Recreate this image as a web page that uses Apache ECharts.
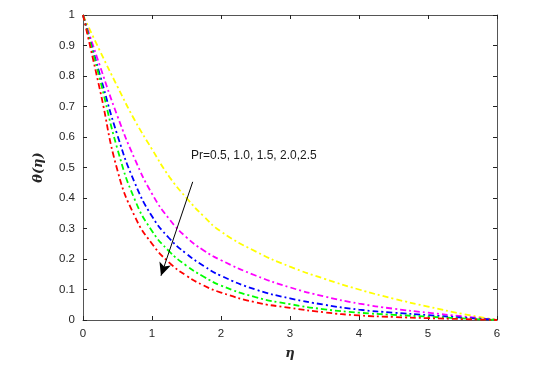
<!DOCTYPE html>
<html>
<head>
<meta charset="utf-8">
<script src="https://cdn.jsdelivr.net/npm/echarts@6/dist/echarts.min.js"></script>
<style>
  html, body { margin: 0; padding: 0; background: #fff; }
  #main { width: 534px; height: 372px; }
</style>
</head>
<body>
<div id="main"></div>
<script>
// eta grid and temperature profiles
const eta = [0, 0.25, 0.5, 0.75, 1, 1.25, 1.5, 1.75, 2, 2.5, 3, 3.5, 4, 4.5, 5, 5.5, 6];
const thetaPr05 = [1, 0.88, 0.765, 0.655, 0.56, 0.47, 0.4, 0.34, 0.29, 0.225, 0.175, 0.135, 0.1, 0.07, 0.044, 0.02, 0];
const thetaPr10 = [1, 0.83, 0.668, 0.528, 0.414, 0.331, 0.271, 0.228, 0.196, 0.146, 0.107, 0.077, 0.054, 0.037, 0.024, 0.012, 0];
const thetaPr15 = [1, 0.8, 0.605, 0.45, 0.34, 0.268, 0.217, 0.177, 0.145, 0.1, 0.071, 0.05, 0.034, 0.024, 0.016, 0.008, 0];
const thetaPr20 = [1, 0.785, 0.56, 0.395, 0.292, 0.225, 0.178, 0.142, 0.113, 0.075, 0.052, 0.035, 0.024, 0.017, 0.011, 0.005, 0];
const thetaPr25 = [1, 0.75, 0.49, 0.34, 0.25, 0.188, 0.145, 0.113, 0.09, 0.058, 0.04, 0.025, 0.015, 0.01, 0.006, 0.003, 0];

const curves = [
  { name: 'Pr=0.5', data: thetaPr05, color: '#ffff00' },
  { name: 'Pr=1.0', data: thetaPr10, color: '#ff00ff' },
  { name: 'Pr=1.5', data: thetaPr15, color: '#0000ff' },
  { name: 'Pr=2.0', data: thetaPr20, color: '#00ff00' },
  { name: 'Pr=2.5', data: thetaPr25, color: '#ff0000' }
];

const chart = echarts.init(document.getElementById('main'));
const axisColor = '#555';
const labelStyle = { color: '#262626', fontSize: 11.5, fontFamily: 'Liberation Sans, Arial' };

const baseX = {
  type: 'value', min: 0, max: 6, interval: 1,
  axisLine: { show: true, onZero: false, lineStyle: { color: axisColor, width: 1 } },
  axisTick: { show: true, inside: true, length: 4, lineStyle: { color: '#222' } },
  splitLine: { show: false }
};
const baseY = {
  type: 'value', min: 0, max: 1, interval: 0.1,
  axisLine: { show: true, onZero: false, lineStyle: { color: axisColor, width: 1 } },
  axisTick: { show: true, inside: true, length: 4, lineStyle: { color: '#222' } },
  splitLine: { show: false }
};

const series = curves.map(c => ({
  name: c.name,
  type: 'line',
  xAxisIndex: 0,
  yAxisIndex: 0,
  smooth: 0.5,
  symbol: 'none',
  data: eta.map((x, i) => [x, c.data[i]]),
  lineStyle: { color: c.color, width: 1.8, type: [6, 3, 2, 3] },
  z: 2
}));

// arrow annotation pointing in the direction of increasing Pr
series.push({
  type: 'line',
  data: [],
  xAxisIndex: 0,
  yAxisIndex: 0,
  markLine: {
    silent: true,
    symbol: ['none', 'arrow'],
    symbolSize: [9, 13],
    label: { show: false },
    lineStyle: { color: '#000', width: 1, type: 'solid' },
    data: [[{ coord: [1.59, 0.453] }, { coord: [1.13, 0.145] }]]
  },
  z: 5
});

chart.setOption({
  backgroundColor: '#fff',
  animation: false,
  grid: { left: 83, right: 37, top: 15, bottom: 52 },
  xAxis: [
    Object.assign({}, baseX, {
      position: 'bottom',
      axisLabel: Object.assign({ margin: 8, formatter: v => String(v) }, labelStyle),
      name: 'η', nameLocation: 'middle', nameGap: 27,
      nameTextStyle: { fontStyle: 'italic', fontWeight: 'bold', fontSize: 13, color: '#262626', fontFamily: 'DejaVu Serif, serif' }
    }),
    Object.assign({}, baseX, { position: 'top', axisLabel: { show: false } })
  ],
  yAxis: [
    Object.assign({}, baseY, {
      position: 'left',
      axisLabel: Object.assign({ margin: 8, formatter: v => String(+v.toFixed(1)) }, labelStyle),
      name: 'θ(η)', nameLocation: 'middle', nameGap: 38, nameRotate: 90,
      nameTextStyle: { fontStyle: 'italic', fontWeight: 'bold', fontSize: 13, color: '#262626', fontFamily: 'DejaVu Serif, serif' }
    }),
    Object.assign({}, baseY, { position: 'right', axisLabel: { show: false } })
  ],
  series: series
});

// annotation text placed in data coordinates
const textPos = chart.convertToPixel({ xAxisIndex: 0, yAxisIndex: 0 }, [1.565, 0.539]);
chart.setOption({
  graphic: [{
    type: 'text',
    x: textPos[0],
    y: textPos[1],
    style: {
      text: 'Pr=0.5, 1.0, 1.5, 2.0,2.5',
      fill: '#1a1a1a',
      font: '12px Liberation Sans, Arial',
      verticalAlign: 'middle'
    },
    z: 10
  }]
});
</script>
</body>
</html>
